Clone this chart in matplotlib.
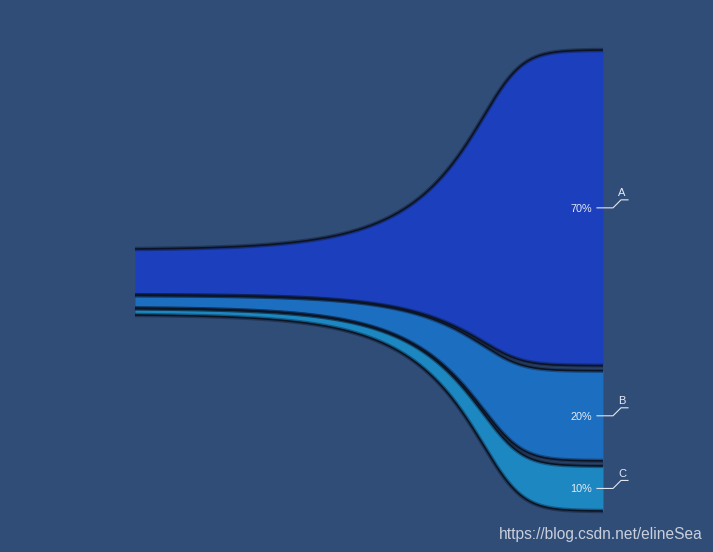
import numpy as np
import matplotlib
import matplotlib.pyplot as plt
import matplotlib.patheffects as pe

matplotlib.rc('font', family=['Liberation Sans', 'DejaVu Sans'])

# data
names = ["A", "B", "C"]
values = [70, 20, 10]
colors = ["#1b3fbd", "#1c6ec0", "#1c87c0"]
bg = "#304d78"

# layout (pixel coords)
x_left, x_right = 135, 603
left_top, left_bot, left_gap = 249, 315, 0
right_top, right_bot, right_gap = 50, 511, 5

def stack(top, bot, gap):
    avail = (bot - top) - gap * (len(values) - 1)
    total = float(sum(values))
    edges = []
    y = top
    for v in values:
        h = avail * v / total
        edges.append((y, y + h))
        y += h + gap
    return edges

def richards(x, c=506.0, s=16.0, k=0.25):
    # asymmetric s-curve: long slow tail on the left, quick settle on the right
    return (1.0 + np.exp(-(x - c) / s)) ** (-k)

def ease(x):
    f0, f1 = richards(x_left), richards(x_right)
    return (richards(x) - f0) / (f1 - f0)

fig = plt.figure(figsize=(7.13, 5.52), dpi=100, facecolor=bg)
ax = fig.add_axes([0, 0, 1, 1])
ax.set_facecolor(bg)
ax.set_xlim(0, 713)
ax.set_ylim(552, 0)
ax.axis("off")

xs = np.linspace(x_left, x_right, 600)
f = ease(xs)
L = stack(left_top, left_bot, left_gap)
R = stack(right_top, right_bot, right_gap)

shadow = [pe.Stroke(linewidth=3.2, foreground="#0b1426", alpha=0.4), pe.Normal()]
for i in range(len(values)):
    top = L[i][0] + (R[i][0] - L[i][0]) * f
    bot = L[i][1] + (R[i][1] - L[i][1]) * f
    ax.fill_between(xs, top, bot, color=colors[i], lw=0, zorder=2)
    for yy in (top, bot):
        ax.plot(xs, yy, color="#0c1424", lw=1.2, zorder=3,
                solid_capstyle="butt", path_effects=shadow)

    # labels
    yc = (R[i][0] + R[i][1]) / 2
    ax.text(x_right - 11, yc + 1, "%d%%" % values[i], color="#e4ebf7", fontsize=7.8,
            ha="right", va="center", zorder=5)
    ax.plot([x_right - 6, x_right + 10, x_right + 18, x_right + 25],
            [yc, yc, yc - 8, yc - 8], color="#dfe6f2", lw=0.8, zorder=5)
    ax.text(x_right + 19, yc - 9.5, names[i], color="#e4ebf7", fontsize=8,
            ha="center", va="bottom", zorder=5)

ax.text(703, 535, "https://blog.csdn.net/elineSea", color="#c9cfda",
        fontsize=11.2, ha="right", va="center")

fig.savefig("out.png", dpi=100, facecolor=bg)
